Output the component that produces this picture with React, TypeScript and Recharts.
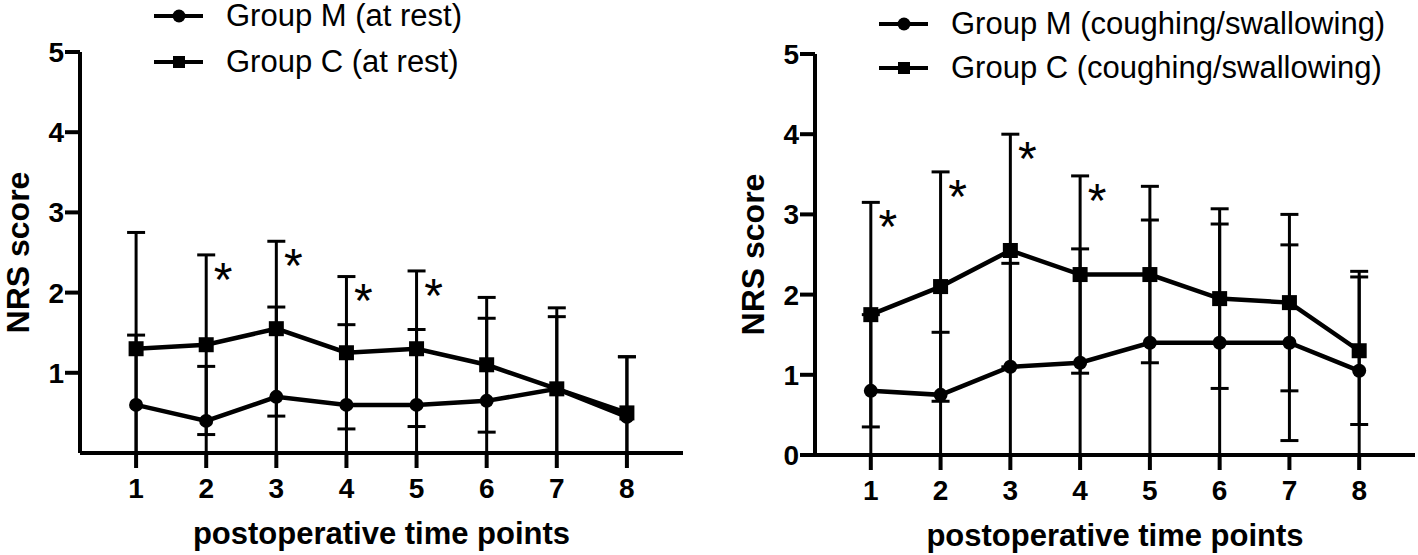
import { ErrorBar, Label, Legend, Line, LineChart, ReferenceDot, XAxis, YAxis } from 'recharts'

const FONT = "'Liberation Sans', Arial, sans-serif"

// postoperative time points 1..8
const timePoints = [1, 2, 3, 4, 5, 6, 7, 8]
const yTicksRest = [1, 2, 3, 4, 5]
const yTicksCough = [0, 1, 2, 3, 4, 5]
const xTicks = [1, 2, 3, 4, 5, 6, 7, 8]

// at rest: mean and SD per time point
const restMMean = [0.6, 0.4, 0.7, 0.6, 0.6, 0.65, 0.8, 0.45]
const restMSd = [0.87, 0.68, 1.12, 1.0, 0.94, 1.03, 0.9, 0.75]
const restCMean = [1.3, 1.35, 1.55, 1.25, 1.3, 1.1, 0.8, 0.5]
const restCSd = [1.45, 1.12, 1.09, 0.95, 0.97, 0.84, 1.01, 0.7]
const restStars = [2, 3, 4, 5]

// coughing / swallowing
const coughMMean = [0.8, 0.75, 1.1, 1.15, 1.4, 1.4, 1.4, 1.05]
const coughMSd = [0.95, 0.78, 1.29, 1.42, 1.53, 1.48, 1.22, 1.24]
const coughCMean = [1.75, 2.1, 2.55, 2.25, 2.25, 1.95, 1.9, 1.3]
const coughCSd = [1.4, 1.43, 1.45, 1.23, 1.1, 1.12, 1.1, 0.92]
const coughStars = [1, 2, 3, 4]

interface Row {
  t: number
  m: number
  c: number
  mErr: [number, number]
  cErr: [number, number]
}

function buildRows(mMean: number[], mSd: number[], cMean: number[], cSd: number[]): Row[] {
  // lower whisker stops at the x axis
  return timePoints.map((t, i) => ({
    t,
    m: mMean[i],
    c: cMean[i],
    mErr: [Math.min(mSd[i], mMean[i]), mSd[i]],
    cErr: [Math.min(cSd[i], cMean[i]), cSd[i]]
  }))
}

const tickStyle = { fill: '#000', fontSize: 28, fontWeight: 700, fontFamily: FONT }
const axisStroke = { stroke: '#000', strokeWidth: 4 }

function CircleDot(props: any) {
  const { cx, cy, index } = props
  if (cx == null || cy == null) return null
  return <circle key={`m-${index}`} cx={cx} cy={cy} r={7} fill="#000" />
}

function SquareDot(props: any) {
  const { cx, cy, index } = props
  if (cx == null || cy == null) return null
  return <rect key={`c-${index}`} x={cx - 7.5} y={cy - 7.5} width={15} height={15} fill="#000" />
}

function Star(props: any) {
  const { cx, cy } = props
  const fs = 48
  return (
    <text x={cx + 17} y={cy + 13 + fs * 0.58} textAnchor="middle" fontSize={fs} fontFamily={FONT} fill="#000">
      *
    </text>
  )
}

function LegendBox({ payload, rowHeight }: any) {
  // group M first, group C second
  const items = [...(payload || [])].sort((a: any, b: any) => (a.dataKey === 'm' ? -1 : b.dataKey === 'm' ? 1 : 0))
  return (
    <div style={{ fontFamily: FONT, fontSize: 31, color: '#000' }}>
      {items.map((entry: any) => (
        <div key={entry.value} style={{ display: 'flex', alignItems: 'center', height: rowHeight, whiteSpace: 'nowrap' }}>
          <svg width={49} height={20} style={{ flex: 'none' }}>
            <line x1={0} x2={49} y1={10} y2={10} stroke="#000" strokeWidth={4} />
            {entry.dataKey === 'm' ? (
              <circle cx={25} cy={10} r={6.5} fill="#000" />
            ) : (
              <rect x={19} y={4} width={12} height={12} fill="#000" />
            )}
          </svg>
          <span style={{ marginLeft: 23 }}>{entry.value}</span>
        </div>
      ))}
    </div>
  )
}

function YTitle({ viewBox }: any) {
  const x = viewBox.x + 18
  const y = viewBox.y + viewBox.height / 2
  return (
    <text
      x={x}
      y={y}
      transform={`rotate(-90, ${x}, ${y})`}
      textAnchor="middle"
      dominantBaseline="central"
      fontSize={32}
      fontWeight={700}
      fontFamily={FONT}
      fill="#000"
    >
      NRS score
    </text>
  )
}

function XTitle({ viewBox }: any) {
  return (
    <text
      x={viewBox.x + viewBox.width / 2}
      y={viewBox.y + 91}
      textAnchor="middle"
      fontSize={31}
      fontWeight={700}
      fontFamily={FONT}
      fill="#000"
    >
      postoperative time points
    </text>
  )
}

interface PanelProps {
  rows: Row[]
  width: number
  marginTop: number
  marginRight: number
  xAxisHeight: number
  yTicks: number[]
  mName: string
  cName: string
  stars: number[]
  legendLeft: number
  legendTop: number
  legendRow: number
}

function Panel(p: PanelProps) {
  return (
    <LineChart
      width={p.width}
      height={555}
      data={p.rows}
      margin={{ top: p.marginTop, right: p.marginRight, bottom: 0, left: 0 }}
    >
      <XAxis
        dataKey="t"
        type="number"
        domain={[0.2, 8.8]}
        ticks={xTicks}
        height={p.xAxisHeight}
        tick={tickStyle}
        tickLine={axisStroke}
        axisLine={axisStroke}
        tickSize={15}
        tickMargin={10}
        allowDataOverflow
      >
        <Label content={XTitle} />
      </XAxis>
      <YAxis
        type="number"
        domain={[0, 5]}
        ticks={p.yTicks}
        width={80}
        tick={tickStyle}
        tickLine={axisStroke}
        axisLine={axisStroke}
        tickSize={15}
        tickMargin={1}
        allowDataOverflow
      >
        <Label content={YTitle} />
      </YAxis>
      <Legend
        layout="vertical"
        align="center"
        verticalAlign="middle"
        wrapperStyle={{ top: p.legendTop, left: p.legendLeft, width: 'auto' }}
        content={(props: any) => <LegendBox payload={props.payload} rowHeight={p.legendRow} />}
      />
      <Line
        dataKey="m"
        name={p.mName}
        type="linear"
        stroke="#000"
        strokeWidth={4.5}
        dot={CircleDot}
        activeDot={false}
        isAnimationActive={false}
      >
        <ErrorBar dataKey="mErr" width={9} strokeWidth={3} stroke="#000" direction="y" isAnimationActive={false} />
      </Line>
      <Line
        dataKey="c"
        name={p.cName}
        type="linear"
        stroke="#000"
        strokeWidth={4.5}
        dot={SquareDot}
        activeDot={false}
        isAnimationActive={false}
      >
        <ErrorBar dataKey="cErr" width={9} strokeWidth={3} stroke="#000" direction="y" isAnimationActive={false} />
      </Line>
      {p.stars.map((t) => {
        const row = p.rows[t - 1]
        return (
          <ReferenceDot
            key={`star-${t}`}
            x={t}
            y={row.c + row.cErr[1]}
            r={0}
            ifOverflow="visible"
            shape={Star}
          />
        )
      })}
    </LineChart>
  )
}

const restRows = buildRows(restMMean, restMSd, restCMean, restCSd)
const coughRows = buildRows(coughMMean, coughMSd, coughCMean, coughCSd)

export default function App() {
  return (
    <div style={{ position: 'absolute', left: 0, top: 0, width: 1418, height: 555, background: '#fff' }}>
      <div style={{ position: 'absolute', left: 0, top: 0 }}>
        <Panel
          rows={restRows}
          width={700}
          marginTop={52}
          marginRight={17}
          xAxisHeight={102}
          yTicks={yTicksRest}
          mName="Group M (at rest)"
          cName="Group C (at rest)"
          stars={restStars}
          legendLeft={154}
          legendTop={-7}
          legendRow={46}
        />
      </div>
      <div style={{ position: 'absolute', left: 735, top: 0 }}>
        <Panel
          rows={coughRows}
          width={683}
          marginTop={54}
          marginRight={3}
          xAxisHeight={100}
          yTicks={yTicksCough}
          mName="Group M (coughing/swallowing)"
          cName="Group C (coughing/swallowing)"
          stars={coughStars}
          legendLeft={144}
          legendTop={2}
          legendRow={44}
        />
      </div>
    </div>
  )
}
